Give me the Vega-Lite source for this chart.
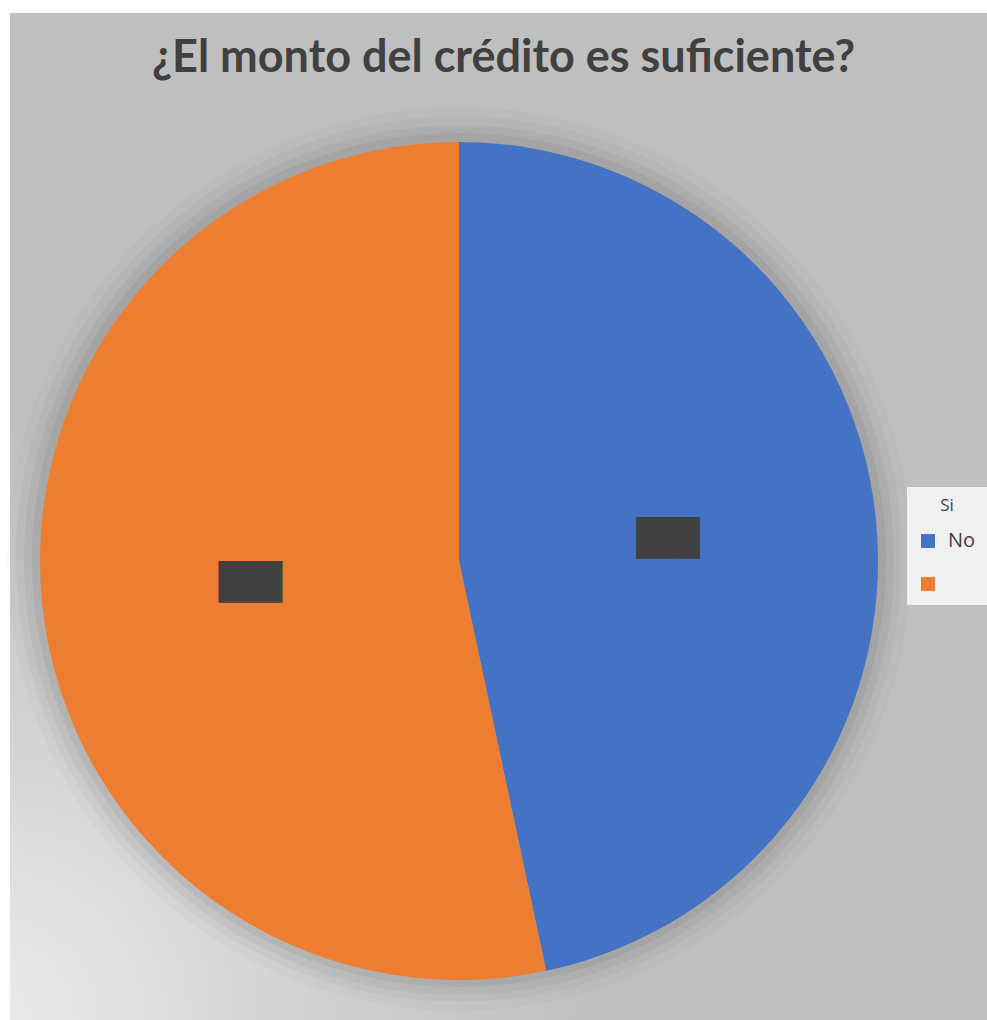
{
  "$schema": "https://vega.github.io/schema/vega-lite/v6.json",
  "autosize": "none",
  "width": 977,
  "height": 1007,
  "padding": {"left": 10, "top": 13, "right": 0, "bottom": 0},
  "background": "white",
  "view": {
    "stroke": null,
    "fill": {
      "gradient": "radial",
      "x1": 0, "y1": 1, "r1": 0,
      "x2": 0, "y2": 1, "r2": 0.6,
      "stops": [
        {"offset": 0, "color": "#ebebeb"},
        {"offset": 0.5, "color": "#d2d2d2"},
        {"offset": 1, "color": "#bfbfbf"}
      ]
    }
  },
  "title": {
    "text": "¿El monto del crédito es suficiente?",
    "font": "Lato",
    "fontSize": 45,
    "fontWeight": "bold",
    "color": "#404040",
    "anchor": "middle",
    "dx": 5,
    "offset": -68
  },
  "data": {
    "values": [
      {"respuesta": "No", "cantidad": 7, "orden": 1},
      {"respuesta": "", "cantidad": 8, "orden": 2}
    ]
  },
  "encoding": {
    "theta": {"field": "cantidad", "type": "quantitative", "stack": true},
    "order": {"field": "orden", "type": "quantitative"}
  },
  "layer": [
    {
      "mark": {"type": "arc", "x": 449, "y": 546, "outerRadius": 452, "fill": "#000000", "opacity": 0.02, "stroke": null}
    },
    {
      "mark": {"type": "arc", "x": 449, "y": 546, "outerRadius": 443, "fill": "#000000", "opacity": 0.03, "stroke": null}
    },
    {
      "mark": {"type": "arc", "x": 449, "y": 547, "outerRadius": 435, "fill": "#000000", "opacity": 0.04, "stroke": null}
    },
    {
      "mark": {"type": "arc", "x": 449, "y": 547, "outerRadius": 427, "fill": "#000000", "opacity": 0.05, "stroke": null}
    },
    {
      "mark": {"type": "arc", "x": 449, "y": 548, "outerRadius": 419, "stroke": null},
      "encoding": {
        "color": {
          "field": "respuesta",
          "type": "nominal",
          "scale": {"domain": ["No", ""], "range": ["#4472c4", "#ed7d31"]},
          "legend": {
            "title": "Si",
            "orient": "none",
            "legendX": 897,
            "legendY": 474,
            "fillColor": "#f0f0f0",
            "padding": 11,
            "titleFont": "Open Sans",
            "titleFontSize": 17,
            "titleFontWeight": "normal",
            "titleColor": "#404040",
            "titleAnchor": "middle",
            "titlePadding": 16,
            "labelFont": "Open Sans",
            "labelFontSize": 20,
            "labelColor": "#404040",
            "symbolType": "square",
            "symbolSize": 196,
            "symbolStrokeWidth": 0,
            "rowPadding": 23,
            "labelOffset": 10
          }
        }
      }
    },
    {
      "mark": {"type": "text", "radius": 210, "dx": -39.5, "dy": 44.5, "font": "DejaVu Sans Mono", "fontSize": 35, "color": "#404040", "align": "center", "baseline": "middle"},
      "encoding": {"text": {"value": "███"}}
    }
  ]
}
